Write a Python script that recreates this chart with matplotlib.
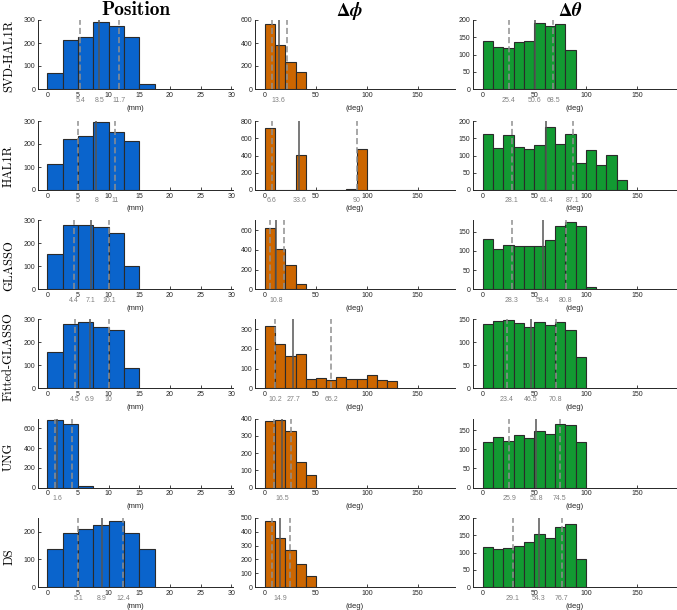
import matplotlib
matplotlib.use('Agg')
import matplotlib.pyplot as plt
from matplotlib.font_manager import FontProperties
from matplotlib import mathtext
import numpy as np
import io

plt.rcParams['mathtext.fontset'] = 'cm'
plt.rcParams['font.family'] = ['Liberation Sans', 'DejaVu Sans']

# ---------------- data ----------------
rows = ['SVD-HAL1R', 'HAL1R', 'GLASSO', 'Fitted-GLASSO', 'UNG', 'DS']
col_titles = ['Position', r'$\mathbf{\Delta}\boldsymbol{\phi}$', r'$\mathbf{\Delta}\boldsymbol{\theta}$']
col_titles_fallback = ['Position', r'$\mathbf{\Delta\phi}$', r'$\mathbf{\Delta\theta}$']
x_units = ['(mm)', '(deg)', '(deg)']

pos_bin_width = 2.5
ang_bin_width = 10

pos_svd = [70, 215, 228, 292, 272, 225, 20]
pos_hal = [115, 220, 235, 295, 253, 213]
pos_glasso = [153, 280, 280, 272, 245, 100]
pos_fitted = [157, 280, 287, 268, 253, 87]
pos_ung = [680, 640, 12]
pos_ds = [138, 197, 210, 225, 238, 197, 137]

phi_svd = [565, 380, 238, 145]
phi_hal = [720, 0, 5, 410, 0, 0, 4, 0, 15, 470, 0, 0, 0, 0, 3]
phi_glasso = [620, 410, 245, 55]
phi_fitted = [318, 226, 163, 174, 47, 52, 42, 56, 45, 45, 70, 40, 38]
phi_ung = [385, 392, 330, 145, 70]
phi_ds = [480, 355, 265, 165, 80]

theta_svd = [140, 122, 120, 135, 140, 190, 183, 187, 112]
theta_hal = [163, 123, 160, 126, 120, 131, 182, 134, 162, 78, 115, 73, 101, 28]
theta_glasso = [130, 104, 115, 112, 114, 114, 128, 165, 176, 165, 6]
theta_fitted = [140, 146, 148, 141, 133, 144, 138, 144, 127, 68]
theta_ung = [118, 132, 122, 137, 130, 148, 140, 165, 162, 119]
theta_ds = [117, 110, 113, 120, 130, 155, 142, 175, 183, 82]

# quartile lines: [lower (dashed), median (solid), upper (dashed)]
q_pos = [[5.4, 8.5, 11.7], [5, 8, 11], [4.4, 7.1, 10.1], [4.5, 6.9, 10],
         [1.3, 1.6, 4.1], [5.1, 8.9, 12.4]]
q_phi = [[6.5, 13.6, 21.2], [6.6, 33.6, 90], [4.9, 10.8, 19], [10.2, 27.7, 65.2],
         [8.8, 16.5, 26], [7, 14.9, 24.5]]
q_theta = [[25.4, 50.6, 68.5], [28.1, 61.4, 87.1], [28.3, 58.4, 80.8], [23.4, 46.5, 70.8],
           [25.9, 51.8, 74.5], [29.1, 54.3, 76.7]]
# which quartile labels are printed (True: all three, False: median only)
pos_label_all = [True, True, True, True, False, True]
phi_label_all = [False, True, False, True, False, False]
theta_label_all = [True, True, True, True, True, True]

pos_ylim = [300, 300, 300, 300, 700, 250]
phi_ylim = [600, 800, 700, 350, 400, 500]
theta_ylim = [200, 200, 180, 150, 180, 200]
pos_ystep = [100, 100, 100, 100, 200, 100]
phi_ystep = [200, 200, 200, 100, 100, 100]
theta_ystep = [50, 50, 50, 50, 50, 50]

pos_xticks = [0, 5, 10, 15, 20, 25, 30]
ang_xticks = [0, 50, 100, 150]

# ---------------- layout ----------------
W, H = 677, 610
fig = plt.figure(figsize=(W / 100, H / 100), dpi=100)

col_left = [38, 255, 473]
col_right = [233, 455, 677]
row_bottom = [89, 190, 289.3, 388.3, 487.5, 587]
ax_h = 69
xlims = [(-1.5, 30.3), (-9.8, 186.6), (-9.3, 188.3)]
colors = ['#0a64cc', '#cc6600', '#129a32']
label_y = [56, 166, 266, 357, 457, 557]

pos_data = [pos_svd, pos_hal, pos_glasso, pos_fitted, pos_ung, pos_ds]
phi_data = [phi_svd, phi_hal, phi_glasso, phi_fitted, phi_ung, phi_ds]
theta_data = [theta_svd, theta_hal, theta_glasso, theta_fitted, theta_ung, theta_ds]

axis_col = '#262626'
px = 0.72  # points per pixel


def fmt(v):
    s = ('%.1f' % v)
    return s[:-2] if s.endswith('.0') else s


def math_ok(s, fam):
    try:
        mathtext.math_to_image(s, io.BytesIO(),
                               prop=FontProperties(size=12, math_fontfamily=fam),
                               format='png')
        return True
    except Exception:
        return False


title_fam = 'stix'
titles = []
for i in range(3):
    if i > 0 and not math_ok(col_titles[i], title_fam):
        titles.append(col_titles_fallback[i])
    else:
        titles.append(col_titles[i])

for r in range(6):
    for c in range(3):
        l, rr = col_left[c], col_right[c]
        b = row_bottom[r]
        ax = fig.add_axes([l / W, 1 - b / H, (rr - l) / W, ax_h / H])
        if c == 0:
            counts, bw, q = pos_data[r], pos_bin_width, q_pos[r]
            ymax, ystep, xt = pos_ylim[r], pos_ystep[r], pos_xticks
            show_all = pos_label_all[r]
        elif c == 1:
            counts, bw, q = phi_data[r], ang_bin_width, q_phi[r]
            ymax, ystep, xt = phi_ylim[r], phi_ystep[r], ang_xticks
            show_all = phi_label_all[r]
        else:
            counts, bw, q = theta_data[r], ang_bin_width, q_theta[r]
            ymax, ystep, xt = theta_ylim[r], theta_ystep[r], ang_xticks
            show_all = theta_label_all[r]
        edges = np.arange(len(counts)) * bw
        ax.bar(edges, counts, width=bw, align='edge', color=colors[c],
               edgecolor='#2b2b2b', linewidth=0.8, zorder=2)
        ax.axvline(q[0], color='#8f8f8f', lw=1.1, ls=(0, (4, 2)), zorder=3)
        ax.axvline(q[2], color='#8f8f8f', lw=1.1, ls=(0, (4, 2)), zorder=3)
        ax.axvline(q[1], color='#555555', lw=1.1, zorder=3)
        ax.set_xlim(*xlims[c])
        ax.set_ylim(0, ymax)
        ax.set_xticks(xt)
        ax.set_yticks(np.arange(0, ymax + 1, ystep))
        ax.patch.set_alpha(0)
        for s in ['top', 'right']:
            ax.spines[s].set_visible(False)
        for s in ['left', 'bottom']:
            ax.spines[s].set_color(axis_col)
            ax.spines[s].set_linewidth(0.7)
        ax.tick_params(direction='in', length=2.5, width=0.6, labelsize=5,
                       pad=2, colors=axis_col)
        # quartile labels
        idx = [0, 1, 2] if show_all else [1]
        for i in idx:
            ax.annotate(fmt(q[i]), xy=(q[i], 0), xycoords=('data', 'axes fraction'),
                        xytext=(0, -11 * px), textcoords='offset points',
                        ha='center', va='center', fontsize=5, color='#808080')
        ax.annotate(x_units[c], xy=(0.5, 0), xycoords='axes fraction',
                    xytext=(0, -19 * px), textcoords='offset points',
                    ha='center', va='center', fontsize=5.5, color=axis_col)
        if r == 0:
            if c == 0:
                fig.text((l + rr) / 2 / W, 1 - 15 / H, titles[c],
                         family='cmb10', fontsize=14, ha='center', va='baseline')
            else:
                fig.text((l + rr) / 2 / W - 5 / W, 1 - 15.5 / H, titles[c],
                         fontproperties=FontProperties(size=13.5, math_fontfamily=title_fam),
                         ha='center', va='baseline')
    fig.text(9 / W, 1 - label_y[r] / H, rows[r], family='cmr10', fontsize=9,
             rotation=90, ha='center', va='center')

fig.savefig('out.png', dpi=100)
